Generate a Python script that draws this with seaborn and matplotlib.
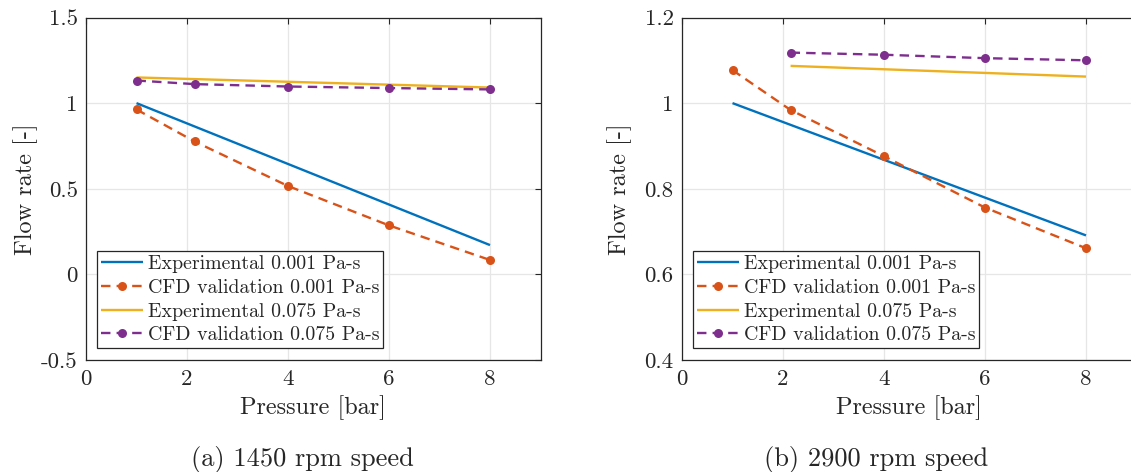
import matplotlib
matplotlib.use("Agg")
import matplotlib.pyplot as plt
import seaborn as sns
import pandas as pd

# ---------------- data ----------------
captions = ["(a) 1450 rpm speed", "(b) 2900 rpm speed"]
series_labels = ["Experimental 0.001 Pa-s", "CFD validation 0.001 Pa-s",
                 "Experimental 0.075 Pa-s", "CFD validation 0.075 Pa-s"]

# panel (a) 1450 rpm
a_exp1_x = [1, 8]
a_exp1_y = [1.000, 0.171]
a_cfd1_x = [1, 2.15, 4, 6, 8]
a_cfd1_y = [0.963, 0.776, 0.516, 0.286, 0.084]
a_exp75_x = [1, 8]
a_exp75_y = [1.150, 1.091]
a_cfd75_x = [1, 2.15, 4, 6, 8]
a_cfd75_y = [1.132, 1.111, 1.097, 1.088, 1.080]

# panel (b) 2900 rpm
b_exp1_x = [1, 8]
b_exp1_y = [1.000, 0.691]
b_cfd1_x = [1, 2.15, 4, 6, 8]
b_cfd1_y = [1.077, 0.984, 0.876, 0.756, 0.661]
b_exp75_x = [2.15, 8]
b_exp75_y = [1.087, 1.062]
b_cfd75_x = [2.15, 4, 6, 8]
b_cfd75_y = [1.118, 1.113, 1.105, 1.100]

x_ticks = [0, 2, 4, 6, 8]
x_ticklabels = ["0", "2", "4", "6", "8"]
a_yticks = [-0.5, 0, 0.5, 1, 1.5]
a_yticklabels = ["-0.5", "0", "0.5", "1", "1.5"]
b_yticks = [0.4, 0.6, 0.8, 1.0, 1.2]
b_yticklabels = ["0.4", "0.6", "0.8", "1", "1.2"]
x_label = "Pressure [bar]"
y_label = "Flow rate [-]"

# ---------------- style ----------------
sns.set_theme(style="whitegrid")
plt.rcParams["font.family"] = ["cmr10", "DejaVu Serif"]
plt.rcParams["mathtext.fontset"] = "cm"
plt.rcParams["axes.formatter.use_mathtext"] = True

colors = ["#0072BD", "#D95319", "#EDB120", "#7E2F8E"]
spine_c = "#262626"

fig = plt.figure(figsize=(11.31, 4.72), dpi=100)
W, H = 1131, 472
ax_a = fig.add_axes([86 / W, 1 - 360 / H, 454.5 / W, 342.5 / H])
ax_b = fig.add_axes([682 / W, 1 - 360 / H, 454.5 / W, 342.5 / H])

panels = [
    (ax_a, [(a_exp1_x, a_exp1_y), (a_cfd1_x, a_cfd1_y), (a_exp75_x, a_exp75_y), (a_cfd75_x, a_cfd75_y)],
     (-0.5, 1.5), a_yticks, a_yticklabels, 2.5),
    (ax_b, [(b_exp1_x, b_exp1_y), (b_cfd1_x, b_cfd1_y), (b_exp75_x, b_exp75_y), (b_cfd75_x, b_cfd75_y)],
     (0.4, 1.2), b_yticks, b_yticklabels, 9),
]

for ax, series, ylim, yt, ytl, ypad in panels:
    ax.set_facecolor("white")
    handles = []
    for i, ((xs, ys), lab) in enumerate(zip(series, series_labels)):
        df = pd.DataFrame({"x": xs, "y": ys})
        dashed = (i % 2 == 1)
        kw = dict(marker="o", markersize=6.5, markeredgewidth=0) if dashed else {}
        sns.lineplot(data=df, x="x", y="y", ax=ax, color=colors[i], linewidth=1.7,
                     linestyle="--" if dashed else "-", sort=False, estimator=None,
                     label=lab, **kw)
        ln = ax.lines[-1]
        if dashed:
            ln.set_dashes([4, 2.6])
        ln.set_solid_capstyle("butt")
        handles.append(ln)
    ax.set_xlim(0, 9)
    ax.set_ylim(*ylim)
    ax.set_xticks(x_ticks)
    ax.set_xticklabels(x_ticklabels)
    ax.set_yticks(yt)
    ax.set_yticklabels(ytl)
    ax.grid(True, color="#e6e6e6", linewidth=0.9)
    ax.set_axisbelow(True)
    for s in ax.spines.values():
        s.set_color(spine_c)
        s.set_linewidth(0.9)
        s.set_visible(True)
    ax.tick_params(axis="both", which="both", direction="in", length=4, width=0.8,
                   color=spine_c, labelsize=16.5, top=True, right=True,
                   labelcolor="#262626")
    ax.tick_params(axis="x", pad=7)
    ax.tick_params(axis="y", pad=6)
    ax.set_xlabel(x_label, fontsize=17.5, color="#262626", labelpad=4)
    ax.set_ylabel(y_label, fontsize=17.5, color="#262626", labelpad=ypad)
    leg = ax.legend(handles=handles, labels=series_labels, loc="lower left",
                    bbox_to_anchor=(0.025, 0.034), borderaxespad=0, fontsize=14.3,
                    frameon=True, fancybox=False, framealpha=1, edgecolor=spine_c,
                    handlelength=2.1, handletextpad=0.25, borderpad=0.2,
                    labelspacing=0.3, numpoints=1)
    leg.get_frame().set_linewidth(0.9)
    for t in leg.get_texts():
        t.set_color("#262626")

fig.text(302 / W, 1 - 466 / H, captions[0], fontsize=19, ha="center", va="baseline", color="#262626")
fig.text(876 / W, 1 - 466 / H, captions[1], fontsize=19, ha="center", va="baseline", color="#262626")

fig.savefig("out.png", dpi=100, facecolor="white")
